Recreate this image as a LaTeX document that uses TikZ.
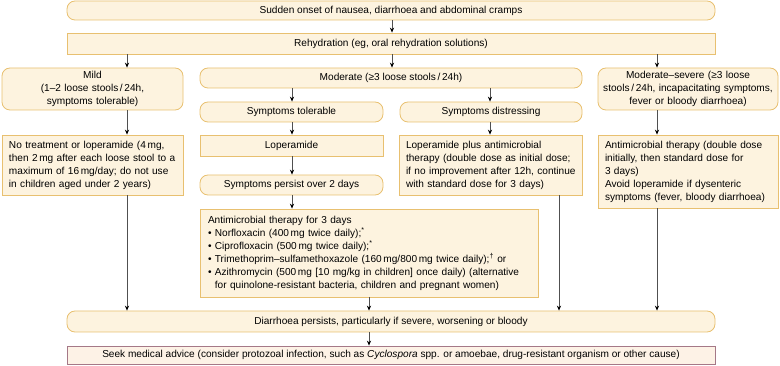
\documentclass[tikz,border=0pt]{standalone}
\usepackage{fontspec}
\setmainfont{Liberation Sans}
\usetikzlibrary{arrows.meta}
\definecolor{cream}{RGB}{253,243,223}
\definecolor{bord}{RGB}{232,192,112}
\definecolor{seekbord}{RGB}{165,120,135}
\definecolor{seekfill}{RGB}{253,242,230}
\definecolor{lin}{RGB}{80,80,80}
\newcommand\oneline[1]{\mbox{#1}}
\tikzset{
  sbox/.style={draw=bord, fill=cream, line width=0.8pt, inner sep=0pt,
    font=\fontsize{10.1}{13}\selectfont},
  rbox/.style={sbox, rounded corners=8pt},
  arr/.style={draw=lin, line width=0.7pt, -{Stealth[length=5pt,width=4.2pt,color=black]}}
}
\begin{document}
\begin{tikzpicture}[x=1pt,y=-1pt]
\useasboundingbox (0,0) rectangle (780,366);
% column x positions
\coordinate (c1) at (127,0);
\coordinate (c2) at (292,0);
\coordinate (c3) at (369,0);
\coordinate (c4) at (392,0);
\coordinate (c5) at (490,0);
\coordinate (c6) at (559,0);
\coordinate (c7) at (657,0);

\node[rbox, minimum width=648pt, minimum height=19pt] (top) at (391,10.5)
  {Sudden onset of nausea, diarrhoea and abdominal cramps};
\node[sbox, minimum width=648pt, minimum height=21pt] (rehyd) at (391,43.5)
  {Rehydration (eg, oral rehydration solutions)};
\node[rbox, minimum width=181pt, minimum height=42pt, text width=175pt, align=center] (mild) at (92.5,89)
  {Mild\\(1–2 loose stools\,/\,24h,\\symptoms tolerable)};
\node[rbox, minimum width=382pt, minimum height=20pt] (moderate) at (391,78)
  {Moderate (≥3 loose stools\,/\,24h)};
\node[rbox, minimum width=180pt, minimum height=42pt, text width=178pt, align=center] (modsev) at (688,89)
  {Moderate–severe (≥3 loose\\\oneline{stools\,/\,24h, incapacitating symptoms,}\\fever or bloody diarrhoea)};
\node[rbox, minimum width=183pt, minimum height=20pt] (symtol) at (291.5,112)
  {Symptoms tolerable};
\node[rbox, minimum width=182pt, minimum height=20pt] (symdis) at (491,112)
  {Symptoms distressing};
\node[sbox, minimum width=181pt, minimum height=60pt, text width=167pt, align=left] (notreat) at (92.5,165)
  {\oneline{No treatment or loperamide (4\,mg,}\\\oneline{then 2\,mg after each loose stool to a}\\\oneline{maximum of 16\,mg/day; do not use}\\\oneline{in children aged under 2 years)}};
\node[sbox, minimum width=183pt, minimum height=21pt] (lop) at (291.5,145.5)
  {Loperamide};
\node[sbox, minimum width=183pt, minimum height=60pt, text width=169pt, align=left] (lopplus) at (490.5,165)
  {\oneline{Loperamide plus antimicrobial}\\\oneline{therapy (double dose as initial dose;}\\\oneline{if no improvement after 12h, continue}\\\oneline{with standard dose for 3 days)}};
\node[sbox, minimum width=180pt, minimum height=73pt, text width=166pt, align=left] (antidouble) at (688,171.5)
  {\oneline{Antimicrobial therapy (double dose}\\\oneline{initially, then standard dose for}\\3 days)\\\oneline{Avoid loperamide if dysenteric}\\\oneline{symptoms (fever, bloody diarrhoea)}};
\node[rbox, minimum width=183pt, minimum height=20pt] (persist) at (291.5,185)
  {Symptoms persist over 2 days};
\node[sbox, minimum width=338pt, minimum height=88pt, text width=322pt, align=left] (anti3) at (369,253)
  {Antimicrobial therapy for 3 days\\
   \oneline{• Norfloxacin (400\,mg twice daily);\textsuperscript{*}}\\
   \oneline{• Ciprofloxacin (500\,mg twice daily);\textsuperscript{*}}\\
   \oneline{• Trimethoprim–sulfamethoxazole (160\,mg/800\,mg twice daily);\textsuperscript{†} or}\\
   \oneline{• Azithromycin (500\,mg [10 mg/kg in children] once daily) (alternative}\\
   \oneline{\phantom{• }for quinolone-resistant bacteria, children and pregnant women)}};
\node[rbox, minimum width=648pt, minimum height=21pt] (diarr) at (391,321.5)
  {Diarrhoea persists, particularly if severe, worsening or bloody};
\node[sbox, draw=seekbord, fill=seekfill, minimum width=648pt, minimum height=18pt] (seek) at (391,355)
  {Seek medical advice (consider protozoal infection, such as \textit{Cyclospora} spp. or amoebae, drug-resistant organism or other cause)};

% connectors
\draw[arr] (top.south -| c4) -- (rehyd.north -| c4);
\draw[arr] (rehyd.south -| c1) -- (mild.north -| c1);
\draw[arr] (rehyd.south -| c4) -- (moderate.north -| c4);
\draw[arr] (rehyd.south -| c7) -- (modsev.north -| c7);
\draw[arr] (moderate.south -| c2) -- (symtol.north -| c2);
\draw[arr] (moderate.south -| c5) -- (symdis.north -| c5);
\draw[arr] (mild.south -| c1) -- (notreat.north -| c1);
\draw[arr] (symdis.south -| c5) -- (lopplus.north -| c5);
\draw[arr] (modsev.south -| c7) -- (antidouble.north -| c7);
\draw[arr] (symtol.south -| c2) -- (lop.north -| c2);
\draw[arr] (lop.south -| c2) -- (persist.north -| c2);
\draw[arr] (persist.south -| c2) -- (anti3.north -| c2);
\draw[arr] (notreat.south -| c1) -- (diarr.north -| c1);
\draw[arr] (anti3.south -| c3) -- (diarr.north -| c3);
\draw[arr] (lopplus.south -| c6) -- (diarr.north -| c6);
\draw[arr] (antidouble.south -| c7) -- (diarr.north -| c7);
\draw[arr] (diarr.south -| c3) -- (seek.north -| c3);
\end{tikzpicture}
\end{document}
